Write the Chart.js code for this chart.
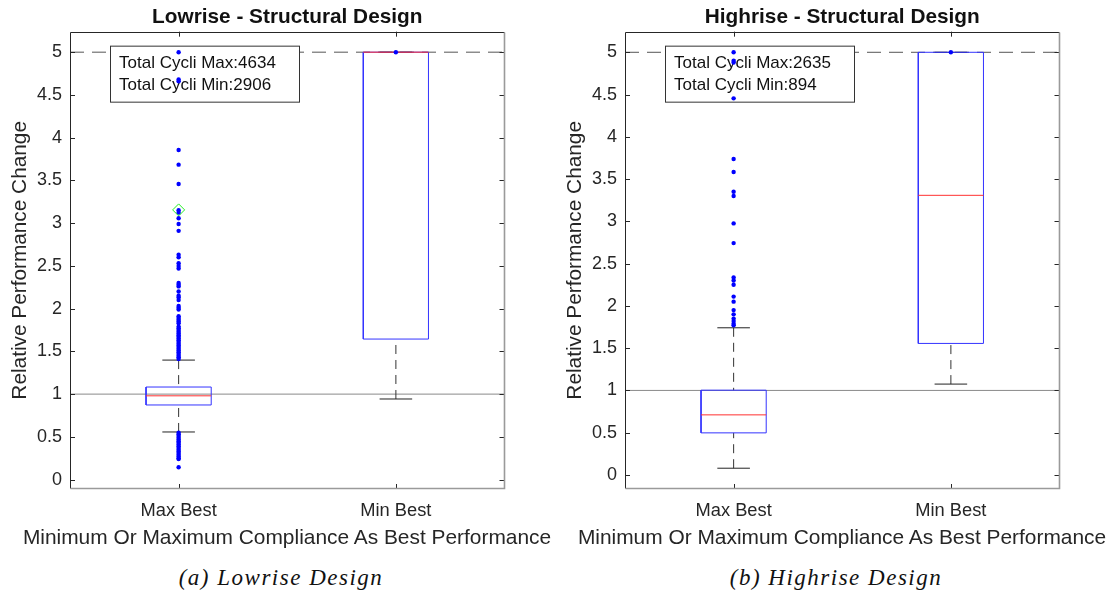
<!DOCTYPE html>
<html>
<head>
<meta charset="utf-8">
<script src="https://cdn.jsdelivr.net/npm/chart.js@4.4.1/dist/chart.umd.min.js"></script>
<style>
  body { margin: 0; background: #fff; width: 1110px; height: 596px; position: relative; overflow: hidden; font-family: "Liberation Sans", Arial, sans-serif; }
  canvas { position: absolute; top: 0; }
  #lowChart { left: 0; }
  #highChart { left: 555px; }
  .xlab { position: absolute; top: 525px; transform: translateX(-50%); font-size: 20.9px; color: #262626; white-space: nowrap; }
  .cap { position: absolute; top: 565px; transform: translateX(-50%); font-family: "Liberation Serif", serif; font-style: italic; font-size: 23px; letter-spacing: 1.5px; color: #111; white-space: nowrap; }
</style>
</head>
<body>
<canvas id="lowChart" width="555" height="560"></canvas>
<canvas id="highChart" width="555" height="560"></canvas>
<div class="xlab" style="left:287px">Minimum Or Maximum Compliance As Best Performance</div>
<div class="xlab" style="left:842px">Minimum Or Maximum Compliance As Best Performance</div>
<div class="cap" style="left:281px">(a) Lowrise Design</div>
<div class="cap" style="left:836px">(b) Highrise Design</div>
<script>
// categories and ticks
const categories = ["Max Best", "Min Best"];
const yTicks = [0, 0.5, 1, 1.5, 2, 2.5, 3, 3.5, 4, 4.5, 5];
const refDashed = 5;
const refSolid = 1;

// Lowrise boxes (Max Best, Min Best)
const lowLowerWhisker = [0.557, 0.943];
const lowQ1 = [0.873, 1.644];
const lowMedian = [0.98, 5.0];
const lowQ3 = [1.083, 5.0];
const lowUpperWhisker = [1.398, 5.0];
const lowOutliersMax = [5.0, 4.68, 4.66, 3.855, 3.684, 3.458, 3.15, 3.123, 3.057, 2.99, 2.91,
  2.63, 2.6, 2.53, 2.5, 2.47, 2.3, 2.28, 2.26, 2.2, 2.15, 2.13, 2.1, 2.03, 2.01, 1.99,
  1.91, 1.89, 1.87, 1.85, 1.83, 1.79, 1.77, 1.75, 1.73, 1.71, 1.69, 1.67, 1.65, 1.63,
  1.61, 1.59, 1.57, 1.55, 1.53, 1.51, 1.49, 1.47, 1.45, 1.43, 1.41,
  0.55, 0.53, 0.51, 0.49, 0.47, 0.45, 0.43, 0.41, 0.39, 0.37, 0.35, 0.33, 0.31, 0.29,
  0.27, 0.25, 0.24, 0.144];
const lowOutliersMin = [5.0];
const lowMean = [3.155, null];
const lowNote = ["Total Cycli Max:4634", "Total Cycli Min:2906"];
const lowYRange = [-0.11, 5.24];

// Highrise boxes (Max Best, Min Best)
const highLowerWhisker = [0.08, 1.075];
const highQ1 = [0.498, 1.556];
const highMedian = [0.711, 3.308];
const highQ3 = [1.003, 5.0];
const highUpperWhisker = [1.741, 5.0];
const highOutliersMax = [5.0, 4.9, 4.88, 4.455, 3.737, 3.583, 3.35, 3.3, 2.976, 2.743,
  2.337, 2.3, 2.25, 2.11, 2.05, 1.95, 1.9, 1.85, 1.82, 1.79, 1.77];
const highOutliersMin = [5.0];
const highMean = [null, null];
const highNote = ["Total Cycli Max:2635", "Total Cycli Min:894"];
const highYRange = [-0.166, 5.244];

const BOX_HALF = 0.15;
const CAP_HALF = 0.075;
const TXT = "#262626";
const FONT = '"Liberation Sans", Arial, sans-serif';

function lineSet(data, color, dash, order, extra) {
  return Object.assign({
    data: data, showLine: true, borderColor: color, borderWidth: 1, borderDash: dash,
    pointRadius: 0, pointHoverRadius: 0, fill: false, order: order
  }, extra || {});
}

function buildDatasets(lo, q1, med, q3, hi, outliers, mean) {
  const ds = [];
  ds.push(lineSet([{x: 0.5, y: refDashed}, {x: 2.5, y: refDashed}], "#555", [14, 8], 7, {noteAfter: true}));
  ds.push(lineSet([{x: 0.5, y: refSolid}, {x: 2.5, y: refSolid}], "#8a8a8a", [], 6));
  categories.forEach(function (c, i) {
    const x = i + 1;
    ds.push(lineSet([{x: x, y: hi[i]}, {x: x, y: q3[i]}], "#333", [9, 6], 5));
    ds.push(lineSet([{x: x, y: lo[i]}, {x: x, y: q1[i]}], "#333", [9, 6], 5));
    ds.push(lineSet([{x: x - CAP_HALF, y: hi[i]}, {x: x + CAP_HALF, y: hi[i]}], "#222", [], 4));
    ds.push(lineSet([{x: x - CAP_HALF, y: lo[i]}, {x: x + CAP_HALF, y: lo[i]}], "#222", [], 4));
    ds.push(lineSet([
      {x: x - BOX_HALF, y: q1[i]}, {x: x + BOX_HALF, y: q1[i]},
      {x: x + BOX_HALF, y: q3[i]}, {x: x - BOX_HALF, y: q3[i]}, {x: x - BOX_HALF, y: q1[i]}
    ], "#3333ff", [], 3));
    ds.push(lineSet([{x: x - BOX_HALF, y: med[i]}, {x: x + BOX_HALF, y: med[i]}], "#ff3030", [], 2));
    ds.push({
      data: outliers[i].map(function (v) { return {x: x, y: v}; }),
      showLine: false, pointRadius: 2.2, pointHoverRadius: 2.2,
      pointBackgroundColor: "#0000ff", pointBorderWidth: 0, order: 1
    });
    if (mean[i] !== null) {
      ds.push({
        data: [{x: x, y: mean[i]}], showLine: false, pointStyle: "rectRot",
        pointRadius: 6, pointBorderColor: "#22ee22", pointBackgroundColor: "rgba(0,0,0,0)",
        pointBorderWidth: 1, order: 0
      });
    }
  });
  return ds;
}

const framePlugin = {
  id: "frame",
  afterDatasetDraw: function (chart, args, opts) {
    const ds = chart.data.datasets[args.index];
    if (!ds.noteAfter) return;
    const ctx = chart.ctx;
    const a = chart.chartArea;
    ctx.save();
    ctx.fillStyle = "#fff";
    ctx.strokeStyle = "#333";
    ctx.lineWidth = 1;
    ctx.fillRect(a.left + 40.5, a.top + 14.5, 189, 56);
    ctx.strokeRect(a.left + 40.5, a.top + 14.5, 189, 56);
    ctx.fillStyle = "#111";
    ctx.font = "17px " + FONT;
    ctx.textBaseline = "middle";
    opts.note.forEach(function (t, i) {
      ctx.fillText(t, a.left + 49, a.top + 31.5 + i * 22);
    });
    ctx.restore();
  },
  afterDraw: function (chart) {
    const ctx = chart.ctx;
    const a = chart.chartArea;
    const xs = chart.scales.x, ys = chart.scales.y;
    ctx.save();
    ctx.strokeStyle = TXT;
    ctx.lineWidth = 1;
    ctx.beginPath();
    ys.ticks.forEach(function (t) {
      const py = Math.round(ys.getPixelForValue(t.value)) + 0.5;
      ctx.moveTo(a.left, py); ctx.lineTo(a.left + 5, py);
      ctx.moveTo(a.right, py); ctx.lineTo(a.right - 5, py);
    });
    xs.ticks.forEach(function (t) {
      const px = Math.round(xs.getPixelForValue(t.value)) + 0.5;
      ctx.moveTo(px, a.bottom); ctx.lineTo(px, a.bottom - 5);
      ctx.moveTo(px, a.top); ctx.lineTo(px, a.top + 5);
    });
    ctx.stroke();
    // frame
    const l = Math.round(a.left) + 0.5, t = Math.round(a.top) + 0.5;
    const r = Math.round(a.right) - 0.5, b = Math.round(a.bottom) - 0.5;
    ctx.beginPath();
    ctx.moveTo(l, b); ctx.lineTo(l, t); ctx.lineTo(r, t);
    ctx.stroke();
    ctx.strokeStyle = "#9a9a9a";
    ctx.lineWidth = 1.6;
    ctx.beginPath();
    ctx.moveTo(r, t); ctx.lineTo(r, b); ctx.lineTo(l, b);
    ctx.stroke();
    ctx.restore();
  }
};

function makeChart(id, title, datasets, note, yRange) {
  return new Chart(document.getElementById(id).getContext("2d"), {
    type: "scatter",
    data: {datasets: datasets},
    plugins: [framePlugin],
    options: {
      responsive: false,
      animation: false,
      events: [],
      layout: {padding: {left: 0, right: 50.5, top: 0, bottom: 0}},
      plugins: {
        legend: {display: false},
        tooltip: {enabled: false},
        title: {
          display: true, text: title, fullSize: false, color: "#111",
          font: {family: FONT, size: 20.8, weight: "bold", lineHeight: 1.2},
          padding: {top: 4.5, bottom: 2.2}
        },
        frame: {note: note}
      },
      scales: {
        x: {
          type: "linear", min: 0.5, max: 2.5,
          grid: {display: false, drawTicks: false},
          border: {display: false},
          afterBuildTicks: function (s) { s.ticks = categories.map(function (c, i) { return {value: i + 1}; }); },
          afterFit: function (s) { s.height = 71; },
          ticks: {
            padding: 10.5, color: TXT, font: {family: FONT, size: 18.3},
            callback: function (v) { return categories[Math.round(v) - 1]; }
          }
        },
        y: {
          min: yRange[0], max: yRange[1],
          grid: {display: false, drawTicks: false},
          border: {display: false},
          afterBuildTicks: function (s) { s.ticks = yTicks.map(function (v) { return {value: v}; }); },
          afterFit: function (s) { s.width = 70; },
          ticks: {
            padding: 8, color: TXT, font: {family: FONT, size: 18},
            callback: function (v) { return String(v); }
          },
          title: {
            display: true, text: "Relative Performance Change", color: TXT,
            font: {family: FONT, size: 20.8, lineHeight: 1.2},
            padding: {top: 8, bottom: 0}
          }
        }
      }
    }
  });
}

makeChart("lowChart", "Lowrise - Structural Design",
  buildDatasets(lowLowerWhisker, lowQ1, lowMedian, lowQ3, lowUpperWhisker, [lowOutliersMax, lowOutliersMin], lowMean),
  lowNote, lowYRange);
makeChart("highChart", "Highrise - Structural Design",
  buildDatasets(highLowerWhisker, highQ1, highMedian, highQ3, highUpperWhisker, [highOutliersMax, highOutliersMin], highMean),
  highNote, highYRange);
</script>
</body>
</html>
